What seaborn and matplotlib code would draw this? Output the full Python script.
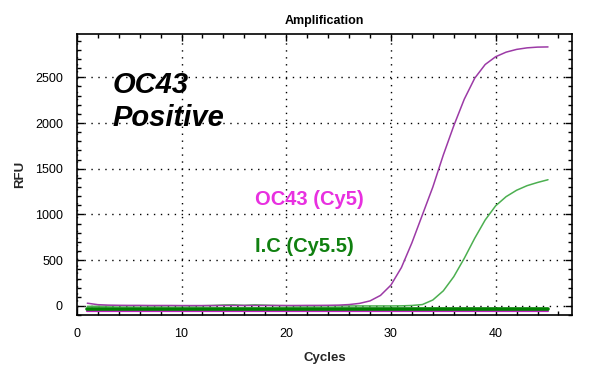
import numpy as np
import pandas as pd
import matplotlib
matplotlib.use("Agg")
import matplotlib.pyplot as plt
import seaborn as sns
from matplotlib.ticker import MultipleLocator

# amplification data
cycles = list(range(1, 46))
oc43_rfu = [30, 14, 9, 7, 6, 6, 5, 5, 5, 4, 4, 4, 4, 5, 5, 5, 5, 5, 5, 5,
            5, 6, 6, 7, 9, 15, 28, 55, 115, 228, 420, 690, 995, 1300, 1650,
            1970, 2260, 2490, 2640, 2725, 2775, 2805, 2822, 2830, 2832]
ic_rfu = [-5, -3, -2, 0, 0, 1, 0, 0, 2, 1, 0, 2, 5, 10, 12, 6, 12, 8, 4, 2,
          0, 0, 0, 1, 0, 0, 0, 0, 0, 0, 1, 5, 15, 65, 165, 320, 520, 740,
          940, 1095, 1195, 1265, 1315, 1350, 1380]
baseline_cycles = [1, 45]
oc43_threshold = [-55, -55]
ic_threshold = [-35, -35]

df = pd.DataFrame({"Cycles": cycles, "OC43": oc43_rfu, "IC": ic_rfu})

sns.set_style("ticks")
plt.rcParams["font.family"] = ["Liberation Sans", "DejaVu Sans"]
plt.rcParams["text.color"] = "black"

fig = plt.figure(figsize=(5.91, 3.72), dpi=100)
ax = fig.add_axes([0.130, 0.153, 0.838, 0.756])

# threshold lines
ax.plot(baseline_cycles, oc43_threshold, color="#c020c0", lw=1.6)
ax.plot(baseline_cycles, ic_threshold, color="#008000", lw=2.6)

sns.lineplot(data=df, x="Cycles", y="IC", color="#4caf50", lw=1.1, ax=ax)
sns.lineplot(data=df, x="Cycles", y="OC43", color="#9c3aa6", lw=1.1, ax=ax)

ax.set_xlim(0, 47.3)
ax.set_ylim(-100, 2975)
ax.xaxis.set_major_locator(MultipleLocator(10))
ax.xaxis.set_minor_locator(MultipleLocator(2))
ax.yaxis.set_major_locator(MultipleLocator(500))
ax.yaxis.set_minor_locator(MultipleLocator(100))
ax.grid(True, which="major", color="black", linestyle=(0, (1, 4)), lw=1.0)

for s in ax.spines.values():
    s.set_linewidth(1.2)
    s.set_color("black")
ax.tick_params(which="both", top=True, right=True, direction="in",
               labelsize=9, colors="black")
ax.tick_params(which="major", length=5, width=1)
ax.tick_params(which="minor", length=3, width=1)
ax.tick_params(axis="x", which="major", pad=9)
ax.tick_params(axis="y", which="major", pad=10)

ax.set_title("Amplification", fontsize=9, fontweight="bold", pad=7)
ax.set_xlabel("Cycles", fontsize=9.5, fontweight="bold", labelpad=9)
ax.set_ylabel("RFU", fontsize=9.5, fontweight="bold", labelpad=6)

ax.text(3.4, 2415, "OC43", fontsize=21, fontweight="bold", style="italic",
        va="center", ha="left")
ax.text(3.4, 2055, "Positive", fontsize=21, fontweight="bold", style="italic",
        va="center", ha="left")
ax.text(17.0, 1167, "OC43 (Cy5)", fontsize=14.5, fontweight="bold",
        color="#e830e0", va="center", ha="left")
ax.text(17.0, 653, "I.C (Cy5.5)", fontsize=14.5, fontweight="bold",
        color="#108010", va="center", ha="left")

fig.savefig("out.png", dpi=100)
